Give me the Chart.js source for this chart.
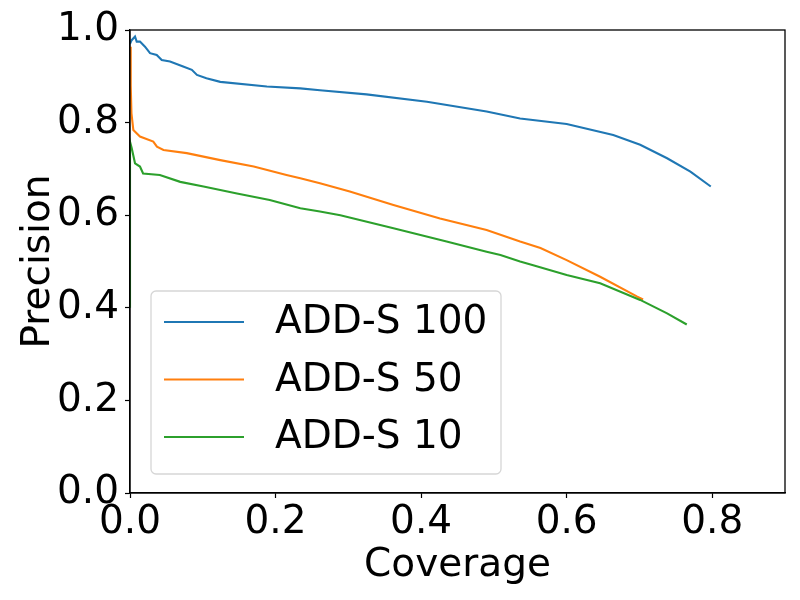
<!DOCTYPE html>
<html>
<head>
<meta charset="utf-8">
<script src="https://cdn.jsdelivr.net/npm/chart.js@4"></script>
<style>
  body { margin: 0; background: #fff; }
  canvas { display: block; }
</style>
</head>
<body>
<canvas id="prChart" width="800" height="600"></canvas>
<script>
// Dados (coverage x precision)
const labels = ["ADD-S 100", "ADD-S 50", "ADD-S 10"];
const colors = ["#1f77b4", "#ff7f0e", "#2ca02c"];

const add100X = [0, 0.0023, 0.0069, 0.0092, 0.0137, 0.0206, 0.0275, 0.0367, 0.0436, 0.055, 0.073, 0.085, 0.092, 0.105, 0.124, 0.188, 0.234, 0.261, 0.325, 0.408, 0.490, 0.536, 0.600, 0.664, 0.701, 0.738, 0.770, 0.798];
const add100Y = [0.97, 0.978, 0.986, 0.975, 0.975, 0.964, 0.950, 0.946, 0.935, 0.932, 0.921, 0.914, 0.903, 0.896, 0.888, 0.878, 0.874, 0.870, 0.861, 0.845, 0.824, 0.809, 0.797, 0.773, 0.752, 0.723, 0.694, 0.662];

const add50X = [0, 0.001, 0.002, 0.0046, 0.0137, 0.032, 0.037, 0.046, 0.078, 0.124, 0.170, 0.215, 0.234, 0.261, 0.302, 0.362, 0.426, 0.490, 0.536, 0.564, 0.600, 0.646, 0.697, 0.705];
const add50Y = [0.964, 0.88, 0.82, 0.784, 0.770, 0.759, 0.748, 0.741, 0.734, 0.719, 0.705, 0.687, 0.680, 0.669, 0.651, 0.622, 0.593, 0.568, 0.543, 0.529, 0.503, 0.467, 0.424, 0.418];

const add10X = [0, 0, 0.0023, 0.0069, 0.0137, 0.018, 0.041, 0.069, 0.101, 0.147, 0.192, 0.234, 0.261, 0.289, 0.362, 0.435, 0.490, 0.509, 0.536, 0.554, 0.600, 0.646, 0.701, 0.738, 0.765];
const add10Y = [0.40, 0.759, 0.745, 0.712, 0.705, 0.690, 0.687, 0.672, 0.662, 0.647, 0.633, 0.615, 0.608, 0.600, 0.572, 0.543, 0.521, 0.514, 0.500, 0.492, 0.471, 0.453, 0.417, 0.388, 0.364];

const xTicks = [0, 0.2, 0.4, 0.6, 0.8];
const yTicks = [0, 0.2, 0.4, 0.6, 0.8, 1.0];

const FONT = "'DejaVu Sans'";
const FSIZE = 39;

function toPoints(xs, ys) {
    return xs.map((x, i) => ({ x: x, y: ys[i] }));
}

const seriesX = [add100X, add50X, add10X];
const seriesY = [add100Y, add50Y, add10Y];

const datasets = labels.map((lbl, i) => ({
    label: lbl,
    data: toPoints(seriesX[i], seriesY[i]),
    borderColor: colors[i],
    backgroundColor: colors[i],
    borderWidth: 2.1,
    pointRadius: 0,
    tension: 0,
    fill: false,
    order: 3 - i // verde por cima, como no original
}));

// Moldura completa + legenda dentro da área do gráfico
const framePlugin = {
    id: "frame",
    afterDatasetsDraw(chart) {
        const { ctx, chartArea: a } = chart;
        ctx.save();
        ctx.strokeStyle = "#000";
        ctx.lineWidth = 1.3;
        ctx.strokeRect(a.left, a.top, a.right - a.left, a.bottom - a.top);

        // legenda
        const bx = a.left + 21, by = a.top + 261, bw = 350, bh = 183, r = 5;
        ctx.beginPath();
        ctx.moveTo(bx + r, by);
        ctx.arcTo(bx + bw, by, bx + bw, by + bh, r);
        ctx.arcTo(bx + bw, by + bh, bx, by + bh, r);
        ctx.arcTo(bx, by + bh, bx, by, r);
        ctx.arcTo(bx, by, bx + bw, by, r);
        ctx.closePath();
        ctx.fillStyle = "rgba(255,255,255,0.8)";
        ctx.fill();
        ctx.strokeStyle = "#d6d6d6";
        ctx.lineWidth = 1.3;
        ctx.stroke();

        ctx.font = FSIZE + "px " + FONT;
        ctx.textBaseline = "middle";
        ctx.textAlign = "left";
        chart.data.datasets.forEach((ds, i) => {
            const y = by + 31 + i * 57.5;
            ctx.strokeStyle = ds.borderColor;
            ctx.lineWidth = 2.1;
            ctx.beginPath();
            ctx.moveTo(bx + 13, y);
            ctx.lineTo(bx + 93, y);
            ctx.stroke();
            ctx.fillStyle = "#000";
            ctx.fillText(ds.label, bx + 124, y + 1);
        });
        ctx.restore();
    }
};

new Chart(document.getElementById("prChart").getContext("2d"), {
    type: "line",
    data: { datasets: datasets },
    options: {
        responsive: false,
        animation: false,
        devicePixelRatio: 1,
        layout: { padding: { top: 30, right: 15, left: 0, bottom: 0 } },
        plugins: {
            legend: { display: false },
            tooltip: { enabled: false }
        },
        scales: {
            x: {
                type: "linear",
                min: 0,
                max: 0.9,
                afterBuildTicks: s => { s.ticks = xTicks.map(v => ({ value: v })); },
                afterFit: s => { s.height = 107; },
                ticks: {
                    color: "#000",
                    font: { family: FONT, size: FSIZE },
                    padding: 1,
                    maxRotation: 0,
                    callback: v => Number(v).toFixed(1)
                },
                grid: { drawOnChartArea: false, color: "#000", tickLength: 5, tickWidth: 1.2 },
                border: { color: "#000", width: 1.3 },
                title: {
                    display: true,
                    text: "Coverage",
                    color: "#000",
                    font: { family: FONT, size: FSIZE },
                    padding: { top: 0, bottom: 11 }
                }
            },
            y: {
                type: "linear",
                min: 0,
                max: 1,
                afterBuildTicks: s => { s.ticks = yTicks.map(v => ({ value: v })); },
                afterFit: s => { s.width = 130; },
                ticks: {
                    color: "#000",
                    font: { family: FONT, size: FSIZE },
                    padding: 6,
                    callback: v => Number(v).toFixed(1)
                },
                grid: { drawOnChartArea: false, color: "#000", tickLength: 5, tickWidth: 1.2 },
                border: { color: "#000", width: 1.3 },
                title: {
                    display: true,
                    text: "Precision",
                    color: "#000",
                    font: { family: FONT, size: FSIZE },
                    padding: { top: 15, bottom: 0 }
                }
            }
        }
    },
    plugins: [framePlugin]
});
</script>
</body>
</html>
